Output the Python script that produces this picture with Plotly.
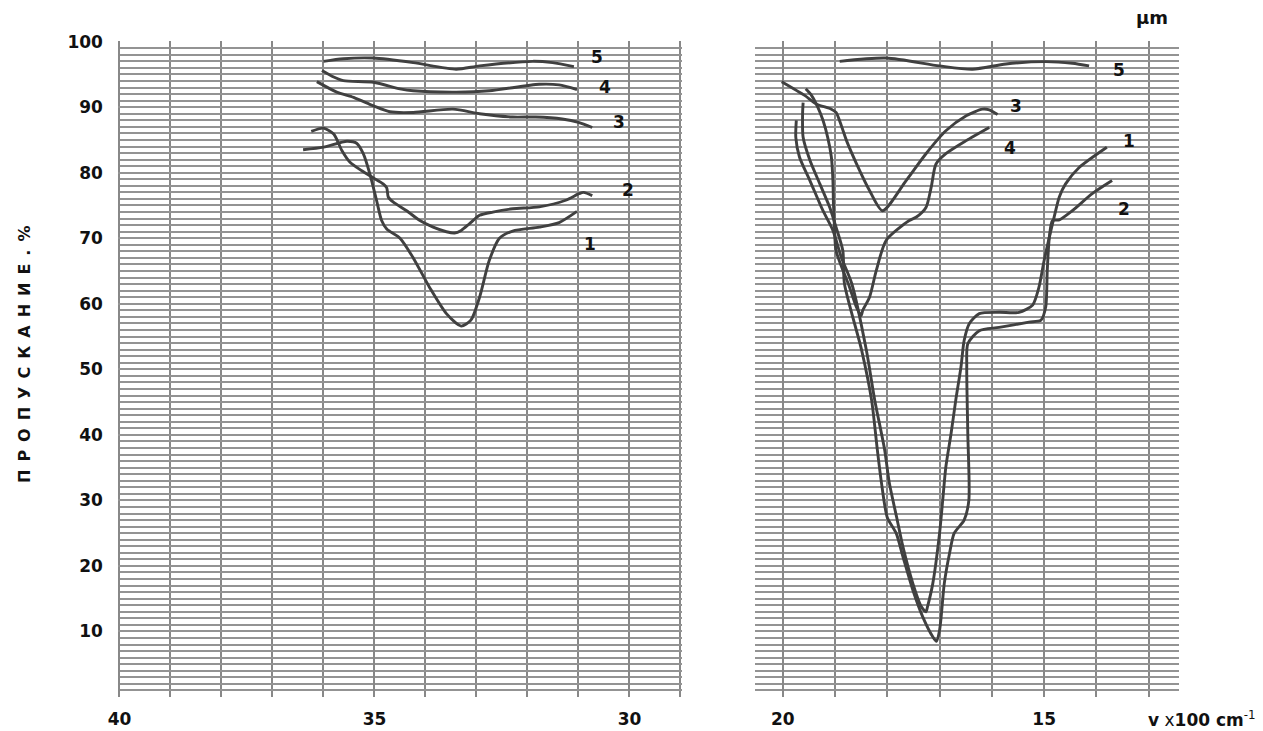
import plotly.graph_objects as go

# ---------------- data ----------------
# Left panel: wavenumber (x100 cm-1) 40 -> 29
L1_X = [36.40, 36.00, 35.54, 35.35, 35.22, 35.09, 34.96, 34.86, 34.76, 34.50, 34.24, 33.92, 33.59, 33.30, 33.11, 32.94, 32.75, 32.55, 32.29, 31.77, 31.38, 31.03]
L1_Y = [83.5, 83.9, 84.8, 84.5, 82.9, 79.8, 75.8, 72.7, 71.4, 70.0, 67.0, 62.5, 58.5, 56.6, 57.5, 61.0, 66.6, 70.0, 71.1, 71.7, 72.4, 74.1]

L2_X = [36.24, 36.00, 35.80, 35.64, 35.48, 35.25, 35.02, 34.83, 34.76, 34.73, 34.63, 34.37, 34.11, 33.85, 33.59, 33.43, 33.30, 33.14, 32.94, 32.68, 32.29, 31.77, 31.25, 30.99, 30.90, 30.73]
L2_Y = [86.3, 86.8, 85.9, 83.4, 81.6, 80.3, 79.2, 78.3, 77.7, 76.3, 75.5, 74.2, 72.7, 71.7, 71.0, 70.8, 71.2, 72.2, 73.5, 74.0, 74.5, 74.8, 75.8, 76.8, 77.0, 76.5]

L3_X = [36.13, 35.74, 35.41, 35.02, 34.70, 34.24, 33.46, 32.94, 32.29, 31.84, 31.32, 31.00, 30.73]
L3_Y = [93.9, 92.3, 91.5, 90.2, 89.3, 89.2, 89.7, 89.0, 88.5, 88.5, 88.2, 87.7, 86.9]

L4_X = [36.03, 35.80, 35.61, 35.02, 34.50, 34.24, 33.40, 32.75, 31.77, 31.38, 31.03]
L4_Y = [95.6, 94.6, 94.05, 93.8, 92.8, 92.5, 92.3, 92.5, 93.5, 93.4, 92.7]

L5_X = [36.00, 35.61, 35.02, 34.24, 33.40, 32.94, 31.90, 31.51, 31.09]
L5_Y = [97.0, 97.4, 97.5, 96.8, 95.8, 96.3, 97.0, 96.8, 96.2]

# Right panel: wavenumber (x100 cm-1) 20.5 -> 12.4
R1_X = [19.74, 19.75, 19.68, 19.48, 19.23, 19.04, 18.88, 18.68, 18.40, 18.24, 18.05, 17.96, 17.82, 17.70, 17.51, 17.35, 17.26,
        17.23, 17.13, 17.00, 16.94, 16.88, 16.78, 16.69, 16.59, 16.53, 16.43, 16.24, 15.86, 15.48, 15.22, 15.10, 15.00, 14.87,
        14.81, 14.71, 14.59, 14.33, 13.80]
R1_Y = [88.0, 85.4, 82.4, 78.8, 74.2, 71.2, 67.1, 63.1, 52.9, 45.3, 37.7, 32.6, 27.4, 22.9, 17.3, 13.8, 13.0,
        13.8, 17.3, 25.0, 30.0, 35.1, 40.2, 45.3, 50.4, 54.4, 57.0, 58.5, 58.7, 58.7, 59.8, 62.5, 66.6, 71.2,
        73.2, 76.3, 78.3, 80.8, 83.9]

R2_X = [19.61, 19.62, 19.61, 19.48, 19.29, 19.10, 18.98, 18.85, 18.82, 18.49, 18.30, 18.19, 18.11, 18.00, 17.83, 17.70, 17.51,
        17.32, 17.13, 17.06, 17.00, 16.97, 16.91, 16.81, 16.72, 16.53, 16.44, 16.46, 16.48, 16.46, 16.24, 15.86, 15.29, 15.06,
        14.97, 14.94, 14.90, 14.84, 14.71, 14.46, 14.08, 13.70]
R2_Y = [90.7, 89.0, 85.4, 81.9, 78.3, 74.7, 71.7, 68.1, 63.1, 52.9, 45.3, 37.7, 32.6, 27.4, 25.0, 21.4, 16.3,
        12.2, 9.2, 8.5, 10.2, 12.2, 17.3, 21.9, 25.0, 27.0, 30.0, 40.2, 50.4, 53.9, 55.9, 56.4, 57.2, 57.5,
        59.5, 65.1, 70.2, 72.7, 72.8, 74.2, 76.8, 78.8]

R3_X = [20.02, 19.58, 19.36, 19.07, 18.98, 18.88, 18.78, 18.59, 18.34, 18.09, 17.64, 17.26, 16.88, 16.49, 16.18, 16.05, 15.89]
R3_Y = [93.9, 91.8, 90.5, 89.7, 89.2, 87.2, 84.9, 81.4, 77.3, 74.2, 78.8, 82.9, 86.4, 88.7, 89.7, 89.6, 88.9]

R4_X = [19.56, 19.45, 19.33, 19.23, 19.14, 19.07, 19.04, 19.03, 19.01, 18.98, 18.72, 18.59, 18.50, 18.47, 18.34, 18.21, 18.02,
        17.58, 17.45, 17.26, 17.16, 17.07, 16.88, 16.49, 16.05]
R4_Y = [92.8, 91.8, 90.0, 88.0, 85.4, 82.4, 78.8, 75.3, 71.7, 68.1, 62.5, 59.5, 58.2, 59.0, 61.0, 65.1, 69.7,
        72.7, 73.2, 74.7, 77.8, 81.3, 82.9, 84.9, 86.9]

R5_X = [18.91, 18.02, 17.00, 16.37, 15.73, 14.97, 14.46, 14.14]
R5_Y = [97.0, 97.5, 96.3, 95.8, 96.6, 96.95, 96.7, 96.3]

# curve number labels (text, x, y)
L_LABELS = [("5", 30.64, 97.6), ("4", 30.49, 93.1), ("3", 30.21, 87.7), ("2", 30.02, 77.4), ("1", 30.78, 69.2)]
R_LABELS = [("5", 13.57, 95.7), ("3", 15.53, 90.2), ("4", 15.65, 83.7), ("1", 13.38, 84.8), ("2", 13.47, 74.5)]

Y_TICKS = [10, 20, 30, 40, 50, 60, 70, 80, 90, 100]
XL_TICKS = [40, 35, 30]
XR_TICKS = [20, 15]

Y_TITLE = "\u2002".join("ПРОПУСКАНИЕ.") + "\u2002%"

# ---------------- figure ----------------
LINE = dict(color="#404040", width=2.9, shape="spline", smoothing=0.7)
FONT = "DejaVu Sans"
INK = "#111111"

fig = go.Figure()
for xs, ys in [(L1_X, L1_Y), (L2_X, L2_Y), (L3_X, L3_Y), (L4_X, L4_Y), (L5_X, L5_Y)]:
    fig.add_trace(go.Scatter(x=xs, y=ys, mode="lines", line=LINE, xaxis="x", yaxis="y",
                             showlegend=False, hoverinfo="skip"))
for xs, ys in [(R1_X, R1_Y), (R2_X, R2_Y), (R3_X, R3_Y), (R4_X, R4_Y), (R5_X, R5_Y)]:
    fig.add_trace(go.Scatter(x=xs, y=ys, mode="lines", line=LINE, xaxis="x2", yaxis="y2",
                             showlegend=False, hoverinfo="skip"))

VGRID = "#888888"
HGRID = "#939393"
tickfont = dict(family=FONT, size=17, color=INK, weight="bold")

xcommon = dict(showgrid=True, gridcolor=VGRID, gridwidth=1.8, zeroline=False, showline=False,
               ticks="", tickfont=tickfont, ticklabelstandoff=10, tickmode="array",
               minor=dict(tickmode="linear", tick0=0, dtick=1, showgrid=True, gridcolor=VGRID, gridwidth=1.8))
ycommon = dict(range=[0, 100.1], domain=[0.0465, 0.9439], showgrid=True, gridcolor=HGRID, gridwidth=1.6,
               zeroline=False, showline=False, ticks="", tickmode="array", tickvals=Y_TICKS,
               minor=dict(tickmode="linear", tick0=0, dtick=1, showgrid=True, gridcolor=HGRID, gridwidth=1.6))

fig.update_layout(
    width=1263, height=731,
    margin=dict(l=0, r=0, t=0, b=0, autoexpand=False),
    paper_bgcolor="white", plot_bgcolor="white",
    xaxis=dict(domain=[0.0934, 0.5400], range=[40.03, 28.97], tickvals=XL_TICKS, anchor="y", **xcommon),
    xaxis2=dict(domain=[0.5978, 0.9335], range=[20.53, 12.42], tickvals=XR_TICKS, anchor="y2", **xcommon),
    yaxis=dict(anchor="x", showticklabels=True, tickfont=tickfont, ticklabelstandoff=14, **ycommon),
    yaxis2=dict(anchor="x2", showticklabels=False, **ycommon),
)

annots = []
lab_font = dict(family=FONT, size=17, color=INK, weight="bold")
for t, x, y in L_LABELS:
    annots.append(dict(text=t, x=x, y=y, xref="x", yref="y", showarrow=False, font=lab_font))
for t, x, y in R_LABELS:
    annots.append(dict(text=t, x=x, y=y, xref="x2", yref="y2", showarrow=False, font=lab_font))

annots.append(dict(text=Y_TITLE, x=24 / 1263, y=1 - 355 / 731, xref="paper", yref="paper",
                   textangle=-90, showarrow=False, xanchor="center", yanchor="middle",
                   font=dict(family=FONT, size=16, color=INK, weight="bold")))
annots.append(dict(text="µm", x=1152 / 1263, y=1 - 18 / 731, xref="paper", yref="paper", showarrow=False,
                   xanchor="center", yanchor="middle",
                   font=dict(family=FONT, size=18, color=INK, weight="bold")))
annots.append(dict(text="<b>v</b> x<b>100 cm</b><sup>-1</sup>", x=1202 / 1263, y=1 - 719 / 731, xref="paper",
                   yref="paper", showarrow=False, xanchor="center", yanchor="middle",
                   font=dict(family=FONT, size=17, color=INK)))
fig.update_layout(annotations=annots)

fig.write_html("out.html", config={"displayModeBar": False},
               post_script="document.body.style.margin='0px';document.body.style.padding='0px';")
